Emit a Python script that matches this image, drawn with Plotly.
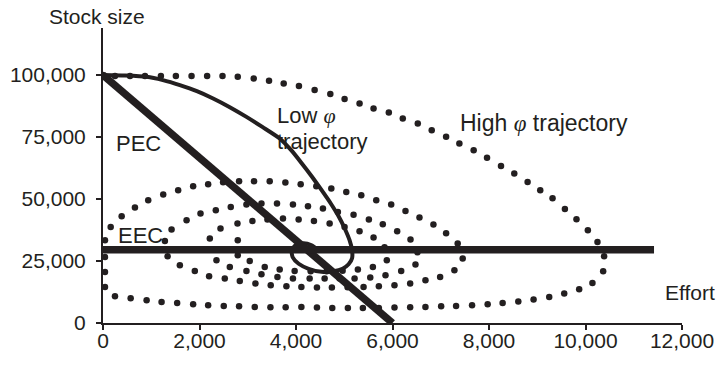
import plotly.graph_objects as go

# ---- data ----
# High phi trajectory: discrete simulation points (dotted spiral)
high_x = [0, 248, 560, 870, 1200, 1510, 1835, 2158, 2477, 2793, 3124, 3441, 3745, 4061, 4386, 4711, 5007, 5317,
          5607, 5924, 6213, 6524, 6813, 7111, 7386, 7682, 7959, 8249, 8524, 8800, 9062, 9317, 9573, 9813, 10049,
          10248, 10386, 10366, 10144, 9869, 9559, 9248, 8924, 8607, 8282, 7972, 7649, 7318, 7008, 6683, 6366,
          6041, 5717, 5386, 5075, 4752, 4434, 4111, 3786, 3470, 3145, 2820, 2503, 2179, 1868, 1537, 1214, 904,
          573, 248, 41, 41, 41, 41,
          159, 387, 662, 937, 1248, 1558, 1868, 2179, 2489, 2820, 3130, 3455, 3780, 4097, 4421, 4732, 5042,
          5353, 5663, 5973, 6269, 6559, 6848, 7111, 7351, 7455, 7283, 6987, 6683, 6366, 6041, 5717, 5400,
          5069, 4744, 4434, 4111, 3801, 3476, 3159, 2835, 2524, 2199, 1903, 1593, 1339, 1283, 1421, 1732,
          2021, 2338,
          2648, 2973, 3284, 3606, 3937, 4248, 4558, 4868, 5193, 5510, 5799, 6097, 6373, 6517, 6476, 6180,
          5855, 5539, 5214, 4904, 4593, 4283, 3937, 3615, 3284, 2973, 2628, 2352, 2255, 2214, 2435,
          2787, 3097, 3408, 3730, 4055, 4372, 4697, 5007, 5317, 5607, 5835, 5882, 5593, 5282, 4966, 4635,
          4304, 3972, 3662, 3352, 3041, 2793, 2793]
high_y = [100000, 99600, 99600, 99600, 99600, 99600, 99600, 99600, 99600, 99310, 98660, 97700, 96650, 95560,
          93940, 92330, 90310, 88570, 86550, 84940, 82520, 80500, 77790, 75090, 72420, 69720, 66610, 63380,
          60310, 56920, 53570, 50340, 46020, 41860, 37420, 32700, 26930, 20870, 16150, 13600, 11870, 10500,
          9450, 8640, 8070, 7550, 7150, 6860, 6740, 6460, 6340, 6220, 6060, 6060, 6060, 6060, 6220, 6460,
          6340, 6340, 6460, 6740, 6860, 7150, 7550, 8070, 8480, 9160, 9970, 10780, 14530, 20590, 26640, 33390,
          38760, 43070, 46590, 49530, 51840, 53570, 55190, 55990, 56800, 57200, 57200, 57200, 56680, 55990,
          55190, 54260, 52880, 51550, 49530, 47800, 45210, 42550, 39720, 36210, 32050, 26000, 21270, 18570,
          17240, 15910, 15220, 14820, 14530, 14410, 14290, 14290, 14530, 14820, 15220, 15910, 16960, 17920,
          18850, 20990, 23290, 26930, 33100, 37710, 41460, 44160, 45500,
          46830, 47800, 48200, 48200, 47800, 47110, 46180, 44810, 43680, 41740, 39850, 37020, 33670, 28540,
          23580, 20990, 19260, 18330, 17920, 17920, 17920, 17920, 17920, 18570, 19660, 20990, 22610, 25310,
          29750, 34070, 38110,
          40130, 41180, 41740, 42150, 41740, 41180, 40130, 38760, 37020, 34480, 30560, 25310, 22610, 21560,
          21070, 20870, 20870, 20990, 21560, 22610, 25030, 27330, 33390]

# Low phi trajectory (solid curve)
low_x = [0, 455, 904, 1241, 1593, 1945, 2282, 2628, 2973, 3310, 3662, 3900, 4117, 4324, 4531, 4717, 4883,
         5017, 5110, 5162, 5162, 5090, 4966, 4779, 4531, 4262, 4055, 3931, 3910, 3993, 4159, 4324, 4448]
low_y = [100000, 99800, 99310, 97980, 95960, 93540, 90590, 87080, 83160, 79000, 74440, 69720, 64470, 59220,
         53570, 48320, 43070, 37830, 33390, 29350, 26120, 23700, 21880, 20870, 20670, 21880, 23900, 26520,
         29350, 31370, 32170, 31370, 29750]

# PEC (straight line) and EEC (horizontal line)
pec_x = [0, 6000]
pec_y = [100000, 0]
eec_x = [0, 11420]
eec_y = [29500, 29500]

x_ticks = [0, 2000, 4000, 6000, 8000, 10000, 12000]
y_ticks = [0, 25000, 50000, 75000, 100000]

INK = "#231f20"
FONT = "Liberation Sans, Arial, sans-serif"
PHI = "<span style=\"font-family:'Liberation Serif', 'DejaVu Serif', serif\"><i>φ</i></span>"

fig = go.Figure()
fig.add_trace(go.Scatter(x=high_x, y=high_y, mode="markers",
                         marker=dict(size=6.5, color=INK), hoverinfo="skip"))
fig.add_trace(go.Scatter(x=low_x, y=low_y, mode="lines",
                         line=dict(color=INK, width=4, shape="spline", smoothing=0.6), hoverinfo="skip"))
fig.add_trace(go.Scatter(x=pec_x, y=pec_y, mode="lines",
                         line=dict(color=INK, width=7.5), hoverinfo="skip"))
fig.add_trace(go.Scatter(x=eec_x, y=eec_y, mode="lines",
                         line=dict(color=INK, width=7.5), hoverinfo="skip"))

lab_font = dict(family=FONT, size=22, color=INK)
traj_font = dict(family=FONT, size=23, color=INK)
ax_font = dict(family=FONT, size=21, color=INK)
annotations = [
    dict(x=-0.011, y=1.039, xref="paper", yref="paper", text="Stock size",
         xanchor="center", yanchor="middle", font=ax_font),
    dict(x=1.013, y=0.104, xref="paper", yref="paper", text="Effort",
         xanchor="center", yanchor="middle", font=ax_font),
    dict(x=250, y=72540, xref="x", yref="y", text="PEC", xanchor="left", yanchor="middle", font=lab_font),
    dict(x=280, y=35400, xref="x", yref="y", text="EEC", xanchor="left", yanchor="middle", font=lab_font),
    dict(x=3590, y=83850, xref="x", yref="y", text="Low " + PHI, xanchor="left", yanchor="middle", font=lab_font),
    dict(x=3590, y=73350, xref="x", yref="y", text="trajectory", xanchor="left", yanchor="middle", font=lab_font),
    dict(x=7370, y=80500, xref="x", yref="y", text="High " + PHI + " trajectory",
         xanchor="left", yanchor="middle", font=traj_font),
]
for a in annotations:
    a.update(showarrow=False, borderpad=0)

fig.update_layout(
    width=716, height=371,
    margin=dict(l=103, r=34, t=28, b=48, autoexpand=False),
    paper_bgcolor="white", plot_bgcolor="white",
    showlegend=False,
    font=dict(family=FONT, size=21, color=INK),
    annotations=annotations,
    xaxis=dict(range=[0, 12000], tickvals=x_ticks, tickformat=",", showgrid=False, zeroline=False,
               showline=True, linecolor=INK, linewidth=2, ticks="outside", ticklen=5, tickwidth=2,
               tickcolor=INK, tickfont=ax_font, automargin=False, ticklabelstandoff=-7),
    yaxis=dict(range=[0, 119000], tickvals=y_ticks, tickformat=",", showgrid=False, zeroline=False,
               showline=True, linecolor=INK, linewidth=2, ticks="outside", ticklen=5, tickwidth=2,
               tickcolor=INK, tickfont=ax_font, automargin=False, ticklabelstandoff=6),
)

fig.write_html("out.html")
